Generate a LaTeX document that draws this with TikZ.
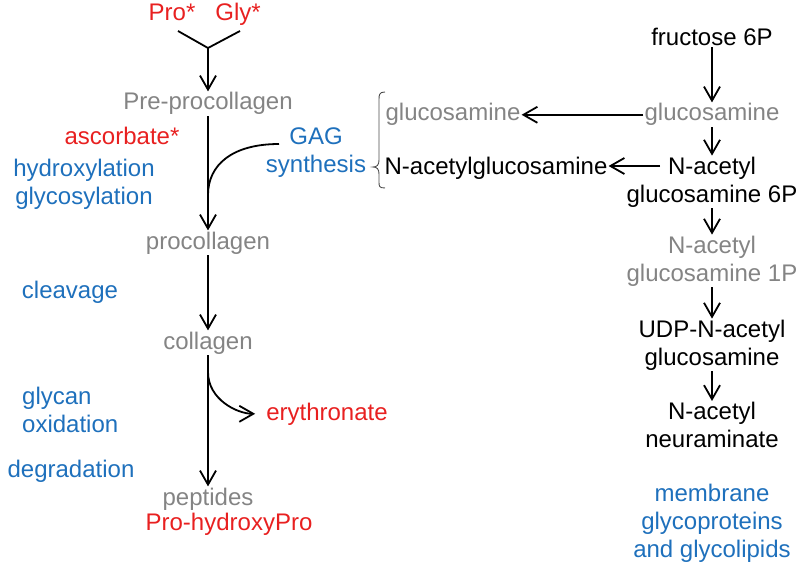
\documentclass[tikz,border=0pt]{standalone}
\usepackage{fontspec}
\setmainfont{Liberation Sans}
\usetikzlibrary{arrows.meta}
\definecolor{redtxt}{RGB}{232,32,32}
\definecolor{bluetxt}{RGB}{30,112,188}
\definecolor{graytxt}{RGB}{132,132,132}
\begin{document}
\begin{tikzpicture}[x=1pt,y=-1pt,
 lbl/.style={font=\fontsize{24}{28}\selectfont,inner sep=1pt,align=center},
 rd/.style={lbl,text=redtxt},
 bl/.style={lbl,text=bluetxt},
 gr/.style={lbl,text=graytxt},
 bk/.style={lbl,text=black},
 arr/.style={line width=1.8pt,-{Straight Barb[length=14pt,width=16pt]}},
 ln/.style={line width=1.8pt}]
 \useasboundingbox (0,0) rectangle (799,567);
 \node[rd,anchor=base] (pro) at (172,21) {Pro*};
 \node[rd,anchor=base] (gly) at (238,21) {Gly*};
 \node[gr,anchor=base] (pre) at (208,110) {Pre-procollagen};
 \node[rd,anchor=base] (asc) at (122,144) {ascorbate*};
 \node[bl] (hyd) at (84,184) {hydroxylation\\glycosylation};
 \node[bl] (gag) at (316,153) {GAG\\synthesis};
 \node[gr,anchor=base] (procol) at (208,249) {procollagen};
 \node[bl,anchor=base] (clv) at (70,298) {cleavage};
 \node[gr,anchor=base] (col) at (208,349) {collagen};
 \node[bl,align=left,anchor=west] (gox) at (21,410) {glycan\\oxidation};
 \node[rd,anchor=base] (ery) at (327,420) {erythronate};
 \node[bl,anchor=base] (deg) at (71,477) {degradation};
 \node[gr,anchor=base] (pep) at (208,505) {peptides};
 \node[rd,anchor=base] (hyp) at (229,530) {Pro-hydroxyPro};
 \node[gr,anchor=base] (glcm) at (453,121) {glucosamine};
 \node[bk,anchor=base] (nacg) at (496,174) {N-acetylglucosamine};
 \node[bk,anchor=base] (f6p) at (712,46) {fructose 6P};
 \node[gr,anchor=base] (glcr) at (712,121) {glucosamine};
 \node[bk] (n6p) at (712,182) {N-acetyl\\glucosamine 6P};
 \node[gr] (n1p) at (712,261) {N-acetyl\\glucosamine 1P};
 \node[bk] (udp) at (712,345) {UDP-N-acetyl\\glucosamine};
 \node[bk] (neu) at (712,425) {N-acetyl\\neuraminate};
 \node[bl] (mem) at (712,523) {membrane\\glycoproteins\\and glycolipids};
 \coordinate (a1) at (178,31);
 \coordinate (a2) at (240,31);
 \coordinate (yj) at (208,48);
 \coordinate (gj) at (279,144);
 \coordinate (gm) at (208,195);
 \coordinate (eb) at (208,372);
 \coordinate (nj) at (660,166);
 \draw[ln] (a1) -- (yj) -- (a2);
 \draw[arr] (yj) -- (pre);
 \draw[arr] (pre) -- (procol);
 \draw[ln] (gj) .. controls (232,144) and (208,165) .. (gm);
 \draw[arr] (procol) -- (col);
 \draw[arr] (col) -- (pep);
 \draw[arr,shorten >=10pt] (eb) to[out=-90,in=180] (ery.west);
 \draw[arr] (f6p) -- (glcr);
 \draw[arr] (glcr) -- (n6p);
 \draw[arr] (n6p) -- (n1p);
 \draw[arr] (n1p) -- (udp);
 \draw[arr] (udp) -- (neu);
 \draw[arr] (glcr) -- (glcm);
 \draw[arr] (nj) -- (nj -| nacg.east);
 \draw[black!70,line width=0.9pt] (385,92) .. controls (379,92) and (379,95) .. (379,100) -- (379,160) .. controls (379,165) and (377,167) .. (373,167) .. controls (377,167) and (379,169) .. (379,174) -- (379,182) .. controls (379,186) and (379,188) .. (385,188);
\end{tikzpicture}
\end{document}
